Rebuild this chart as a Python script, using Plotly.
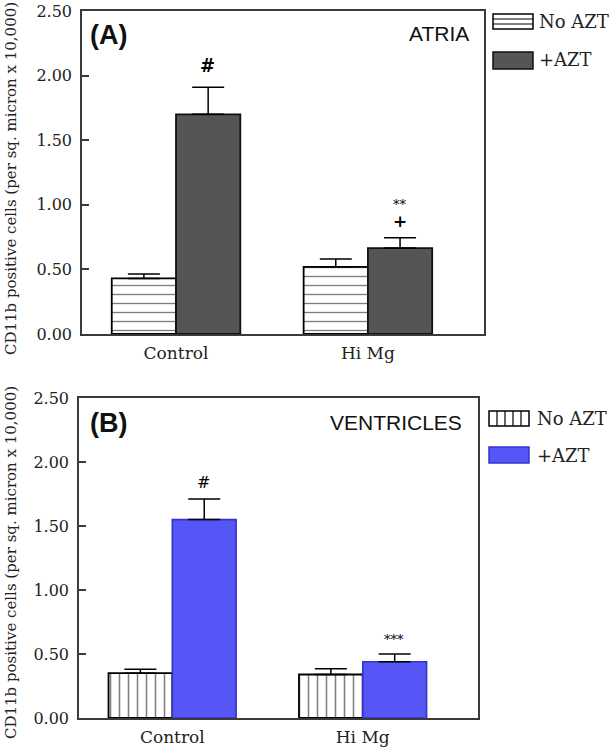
import plotly.graph_objects as go

W, H = 611, 750

# ---------------- data ----------------
categories = ["Control", "Hi Mg"]
series_names = ["No AZT", "+AZT"]

atria_no_azt = [0.43, 0.52]
atria_no_azt_sem = [0.035, 0.06]
atria_azt = [1.70, 0.665]
atria_azt_sem = [0.21, 0.08]

vent_no_azt = [0.35, 0.34]
vent_no_azt_sem = [0.03, 0.045]
vent_azt = [1.55, 0.44]
vent_azt_sem = [0.16, 0.06]

y_tick_vals = [0.0, 0.5, 1.0, 1.5, 2.0, 2.5]
y_tick_labels = ["0.00", "0.50", "1.00", "1.50", "2.00", "2.50"]

panel_labels = ["(A)", "(B)"]
panel_titles = ["ATRIA", "VENTRICLES"]
y_title = "CD11b positive cells (per sq. micron x 10,000)"

# ---------------- helpers ----------------
def px(x):
    return x / W

def py(y):
    return 1 - y / H

SERIF = "DejaVu Serif"
SANS = "Liberation Sans"
AXC = "#3a3a3a"
GRAY = "#555555"
BLUE = "#5656f6"
BLUE_LINE = "#3434c8"

fig = go.Figure()

def err(arr):
    return dict(type="data", symmetric=False, array=arr, arrayminus=[0] * len(arr),
                color="black", thickness=1.5, width=16)

# Panel A
fig.add_trace(go.Bar(
    x=categories, y=atria_no_azt, name=series_names[0], xaxis="x", yaxis="y",
    marker=dict(color="white", line=dict(color="black", width=1.8),
                pattern=dict(shape="-", fgcolor="black", bgcolor="white", size=9, solidity=0.15)),
    error_y=err(atria_no_azt_sem), showlegend=False))
fig.add_trace(go.Bar(
    x=categories, y=atria_azt, name=series_names[1], xaxis="x", yaxis="y",
    marker=dict(color=GRAY, line=dict(color="#111111", width=1.8)),
    error_y=err(atria_azt_sem), showlegend=False))

# Panel B
fig.add_trace(go.Bar(
    x=categories, y=vent_no_azt, name=series_names[0], xaxis="x2", yaxis="y2",
    marker=dict(color="white", line=dict(color="black", width=1.8),
                pattern=dict(shape="|", fgcolor="black", bgcolor="white", size=9, solidity=0.17)),
    error_y=err(vent_no_azt_sem), showlegend=False))
fig.add_trace(go.Bar(
    x=categories, y=vent_azt, name=series_names[1], xaxis="x2", yaxis="y2",
    marker=dict(color=BLUE, line=dict(color=BLUE_LINE, width=1.6)),
    error_y=err(vent_azt_sem), showlegend=False))

xax = dict(type="category", showline=True, mirror=True, linecolor=AXC, linewidth=1.5,
           ticks="", showgrid=False, zeroline=False, range=[-0.49, 1.605],
           tickfont=dict(family=SERIF, size=17, color="#222"), ticklabelstandoff=3,
           automargin=False, fixedrange=True)
yax = dict(range=[0, 2.5], tickvals=y_tick_vals, ticktext=y_tick_labels,
           ticks="inside", ticklen=7, tickwidth=1.5, tickcolor=AXC,
           showline=True, mirror=True, linecolor=AXC, linewidth=1.5,
           showgrid=False, zeroline=False,
           tickfont=dict(family=SERIF, size=16, color="#222"), ticklabelstandoff=5,
           automargin=False, fixedrange=True)

fig.update_layout(
    width=W, height=H, margin=dict(l=0, r=0, t=0, b=0),
    paper_bgcolor="white", plot_bgcolor="white",
    barmode="group", bargap=0.33, bargroupgap=0,
    xaxis=dict(xax, domain=[px(82), px(484)], anchor="y"),
    yaxis=dict(yax, domain=[py(334), py(11)], anchor="x"),
    xaxis2=dict(xax, domain=[px(79), px(478)], anchor="y2"),
    yaxis2=dict(yax, domain=[py(718), py(398)], anchor="x2"),
)

ann = []
# panel labels and titles
for lab, tit, lab_y, tit_x, tit_y in [
    (panel_labels[0], panel_titles[0], 35, 471, 33),
    (panel_labels[1], panel_titles[1], 423, 464, 423),
]:
    ann.append(dict(text="<b>%s</b>" % lab, xref="paper", yref="paper", x=px(88), y=py(lab_y),
                    xanchor="left", yanchor="middle", showarrow=False,
                    font=dict(family=SANS, size=27, color="#111")))
    ann.append(dict(text=tit, xref="paper", yref="paper", x=px(tit_x), y=py(tit_y),
                    xanchor="right", yanchor="middle", showarrow=False,
                    font=dict(family=SANS, size=21, color="#111")))

# y-axis titles
for yc in [179, 563]:
    ann.append(dict(text=y_title, xref="paper", yref="paper", x=px(11), y=py(yc),
                    textangle=-90, xanchor="center", yanchor="middle", showarrow=False,
                    font=dict(family=SERIF, size=15, color="#222")))

# significance marks (positioned above error-bar tops)
def mark(text, xa, ya, cat_idx, top, shift, size, bold=False):
    t = "<b>%s</b>" % text if bold else text
    ann.append(dict(text=t, xref=xa, yref=ya, x=cat_idx + 0.165, y=top, yshift=shift,
                    xanchor="center", yanchor="middle", showarrow=False,
                    font=dict(family=SERIF, size=size, color="black")))

mark("#", "x", "y", 0, atria_azt[0] + atria_azt_sem[0], 22, 18, bold=True)
mark("+", "x", "y", 1, atria_azt[1] + atria_azt_sem[1], 17, 17, bold=True)
mark("**", "x", "y", 1, atria_azt[1] + atria_azt_sem[1], 33, 13)
mark("#", "x2", "y2", 0, vent_azt[0] + vent_azt_sem[0], 17, 16)
mark("***", "x2", "y2", 1, vent_azt[1] + vent_azt_sem[1], 15, 13)

shapes = []
# legend A
lx0, lx1 = 493, 533
shapes.append(dict(type="rect", xref="paper", yref="paper", x0=px(lx0), x1=px(lx1),
                   y0=py(29), y1=py(14), line=dict(color="black", width=1.5), fillcolor="white"))
for yy in [19, 24]:
    shapes.append(dict(type="line", xref="paper", yref="paper", x0=px(lx0), x1=px(lx1),
                       y0=py(yy), y1=py(yy), line=dict(color="black", width=1.2)))
shapes.append(dict(type="rect", xref="paper", yref="paper", x0=px(lx0), x1=px(lx1),
                   y0=py(69), y1=py(52), line=dict(color="#111", width=1.5), fillcolor=GRAY))
ann.append(dict(text=series_names[0], xref="paper", yref="paper", x=px(537), y=py(22),
                xanchor="left", yanchor="middle", showarrow=False,
                font=dict(family=SERIF, size=18, color="#222")))
ann.append(dict(text=series_names[1], xref="paper", yref="paper", x=px(537), y=py(60),
                xanchor="left", yanchor="middle", showarrow=False,
                font=dict(family=SERIF, size=18, color="#222")))

# legend B
bx0, bx1 = 489, 529
shapes.append(dict(type="rect", xref="paper", yref="paper", x0=px(bx0), x1=px(bx1),
                   y0=py(426), y1=py(411), line=dict(color="black", width=1.5), fillcolor="white"))
for xx in [497, 505, 513, 521]:
    shapes.append(dict(type="line", xref="paper", yref="paper", x0=px(xx), x1=px(xx),
                       y0=py(426), y1=py(411), line=dict(color="black", width=1.2)))
shapes.append(dict(type="rect", xref="paper", yref="paper", x0=px(bx0), x1=px(bx1),
                   y0=py(463), y1=py(447), line=dict(color=BLUE_LINE, width=1.5), fillcolor=BLUE))
ann.append(dict(text=series_names[0], xref="paper", yref="paper", x=px(535), y=py(418),
                xanchor="left", yanchor="middle", showarrow=False,
                font=dict(family=SERIF, size=18, color="#222")))
ann.append(dict(text=series_names[1], xref="paper", yref="paper", x=px(535), y=py(455),
                xanchor="left", yanchor="middle", showarrow=False,
                font=dict(family=SERIF, size=18, color="#222")))

fig.update_layout(annotations=ann, shapes=shapes)

fig.write_html("out.html", config={"displayModeBar": False},
               post_script="document.body.style.margin='0';document.body.style.overflow='hidden';")
